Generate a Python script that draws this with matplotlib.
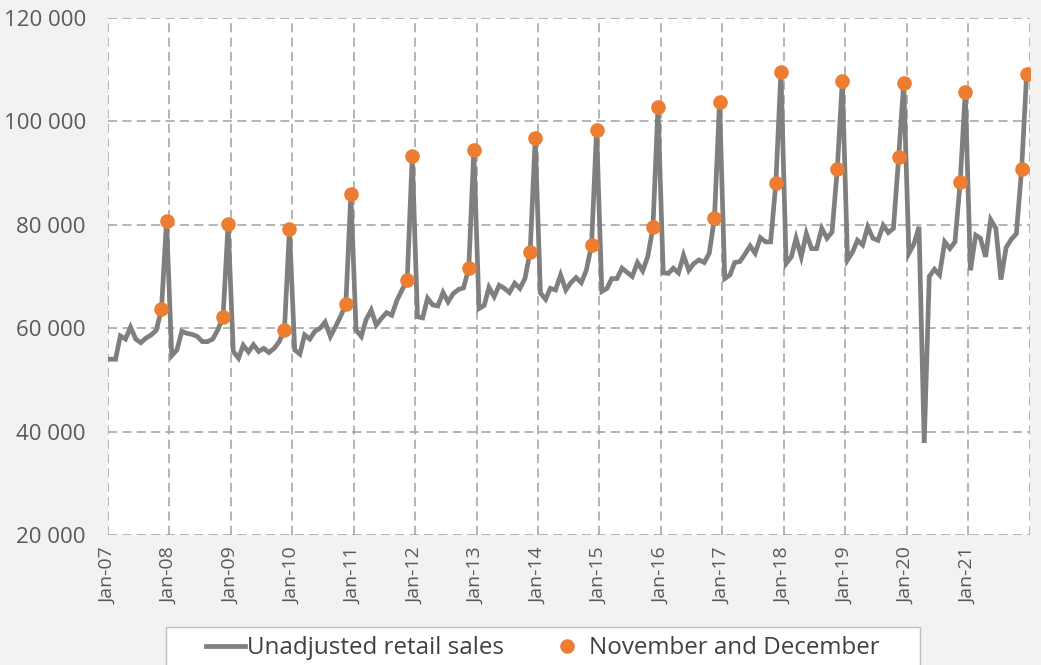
import matplotlib
matplotlib.use("Agg")
import matplotlib.pyplot as plt
from matplotlib.patches import Rectangle
from matplotlib.lines import Line2D
from matplotlib.ticker import FuncFormatter
import pandas as pd

# monthly unadjusted retail sales, Jan-07 .. Dec-21
sales = [
    54000, 54000, 58500, 57900, 60200, 57900, 57200, 58100, 58700, 59600, 63700, 80700,  # 2007
    54700, 55800, 59400, 59000, 58800, 58400, 57400, 57400, 57900, 59700, 62100, 80100,  # 2008
    55500, 54200, 56700, 55400, 56800, 55500, 56100, 55300, 56100, 57400, 59600, 79200,  # 2009
    55800, 55000, 58700, 57900, 59400, 60000, 61200, 58400, 60300, 62300, 64600, 85900,  # 2010
    59650, 58400, 61600, 63500, 60600, 61900, 63000, 62500, 65400, 67400, 69300, 93300,  # 2011
    62200, 62000, 65800, 64500, 64300, 66900, 65100, 66700, 67500, 67800, 71600, 94400,  # 2012
    63800, 64400, 67900, 66100, 68300, 67700, 66900, 68700, 67700, 69600, 74800, 96700,  # 2013
    66800, 65600, 67700, 67400, 70300, 67400, 68800, 69800, 68800, 71200, 76100, 98300,  # 2014
    67100, 67700, 69600, 69600, 71600, 70800, 70000, 72700, 71100, 73800, 79500, 102800,  # 2015
    70700, 70600, 71600, 70700, 74100, 71200, 72500, 73200, 72700, 74500, 81400, 103700,  # 2016
    69600, 70300, 72700, 72900, 74300, 75900, 74500, 77500, 76700, 76700, 88100, 109600,  # 2017
    72500, 73800, 77400, 73800, 78300, 75400, 75400, 79300, 77400, 78600, 90700, 107800,  # 2018
    73200, 74800, 77000, 76100, 79600, 77400, 77000, 79900, 78500, 79300, 93100, 107400,  # 2019
    74500, 76400, 79600, 37800, 70000, 71400, 70300, 76700, 75400, 76700, 88300, 105700,  # 2020
    71200, 78000, 77400, 73800, 81000, 79300, 69400, 75600, 77200, 78300, 90700, 109100,  # 2021
]
first_month = "2007-01-01"
tick_years = list(range(2007, 2023))
tick_labels = [f"Jan-{y % 100:02d}" for y in tick_years[:-1]] + [""]
y_ticks = [20000, 40000, 60000, 80000, 100000, 120000]

GREY_LINE = "#7f7f7f"
ORANGE = "#ED7D31"
GRID = "#a0a0a0"
TEXT = "#595959"

plt.rcParams["font.family"] = ["Open Sans", "DejaVu Sans"]

months = pd.date_range(first_month, periods=len(sales), freq="MS")
x = months + pd.Timedelta(days=14)  # Excel puts each month in the middle of its slot
s = pd.Series(sales, index=x)
holiday = s[(months.month == 11) | (months.month == 12)]

fig = plt.figure(figsize=(10.41, 6.65), dpi=100, facecolor="#f2f2f2")
ax = fig.add_axes([108 / 1041, 1 - 535 / 665, (1029.5 - 108) / 1041, (535 - 18) / 665])
ax.set_facecolor("white")

ax.plot(s.index, s.values, color=GREY_LINE, lw=3.4, solid_joinstyle="miter", zorder=3)
ax.plot(holiday.index, holiday.values, "o", color=ORANGE, ms=10.5, mec="none", zorder=4)

ax.set_ylim(20000, 120000)
ax.set_yticks(y_ticks)
ax.yaxis.set_major_formatter(FuncFormatter(lambda v, _: f"{int(v):,}".replace(",", " ")))
xt = pd.to_datetime([f"{y}-01-01" for y in tick_years])
ax.set_xlim(xt[0], xt[-1])
ax.set_xticks(xt)
ax.set_xticklabels(tick_labels, rotation=90)

ax.grid(True, color=GRID, lw=1.1, linestyle=(0, (6.0, 3.4)), zorder=1)
for sp in ax.spines.values():
    sp.set_visible(False)
ax.tick_params(axis="y", length=0, pad=16, labelsize=16, labelcolor=TEXT)
ax.tick_params(axis="x", length=0, pad=9, labelsize=14, labelcolor=TEXT)

# legend box, cut off by the bottom of the picture like the original
fig.patches.append(Rectangle((166 / 1041, -0.05), (920 - 166) / 1041, 0.05 + 1 - 627 / 665,
                             transform=fig.transFigure, facecolor="white",
                             edgecolor="#bfbfbf", lw=1.0, zorder=1))
handles = [Line2D([], [], color=GREY_LINE, lw=3.4),
           Line2D([], [], color=ORANGE, marker="o", ms=10.5, mec="none", ls="none")]
fig.legend(handles, ["Unadjusted retail sales", "November and December"],
           loc="center", bbox_to_anchor=(543 / 1041, 1 - 648 / 665), ncol=2, frameon=False,
           fontsize=17.4, labelcolor="#404040", handlelength=1.6, handletextpad=0.1,
           columnspacing=1.8)

fig.savefig("out.png", dpi=100, facecolor=fig.get_facecolor())
